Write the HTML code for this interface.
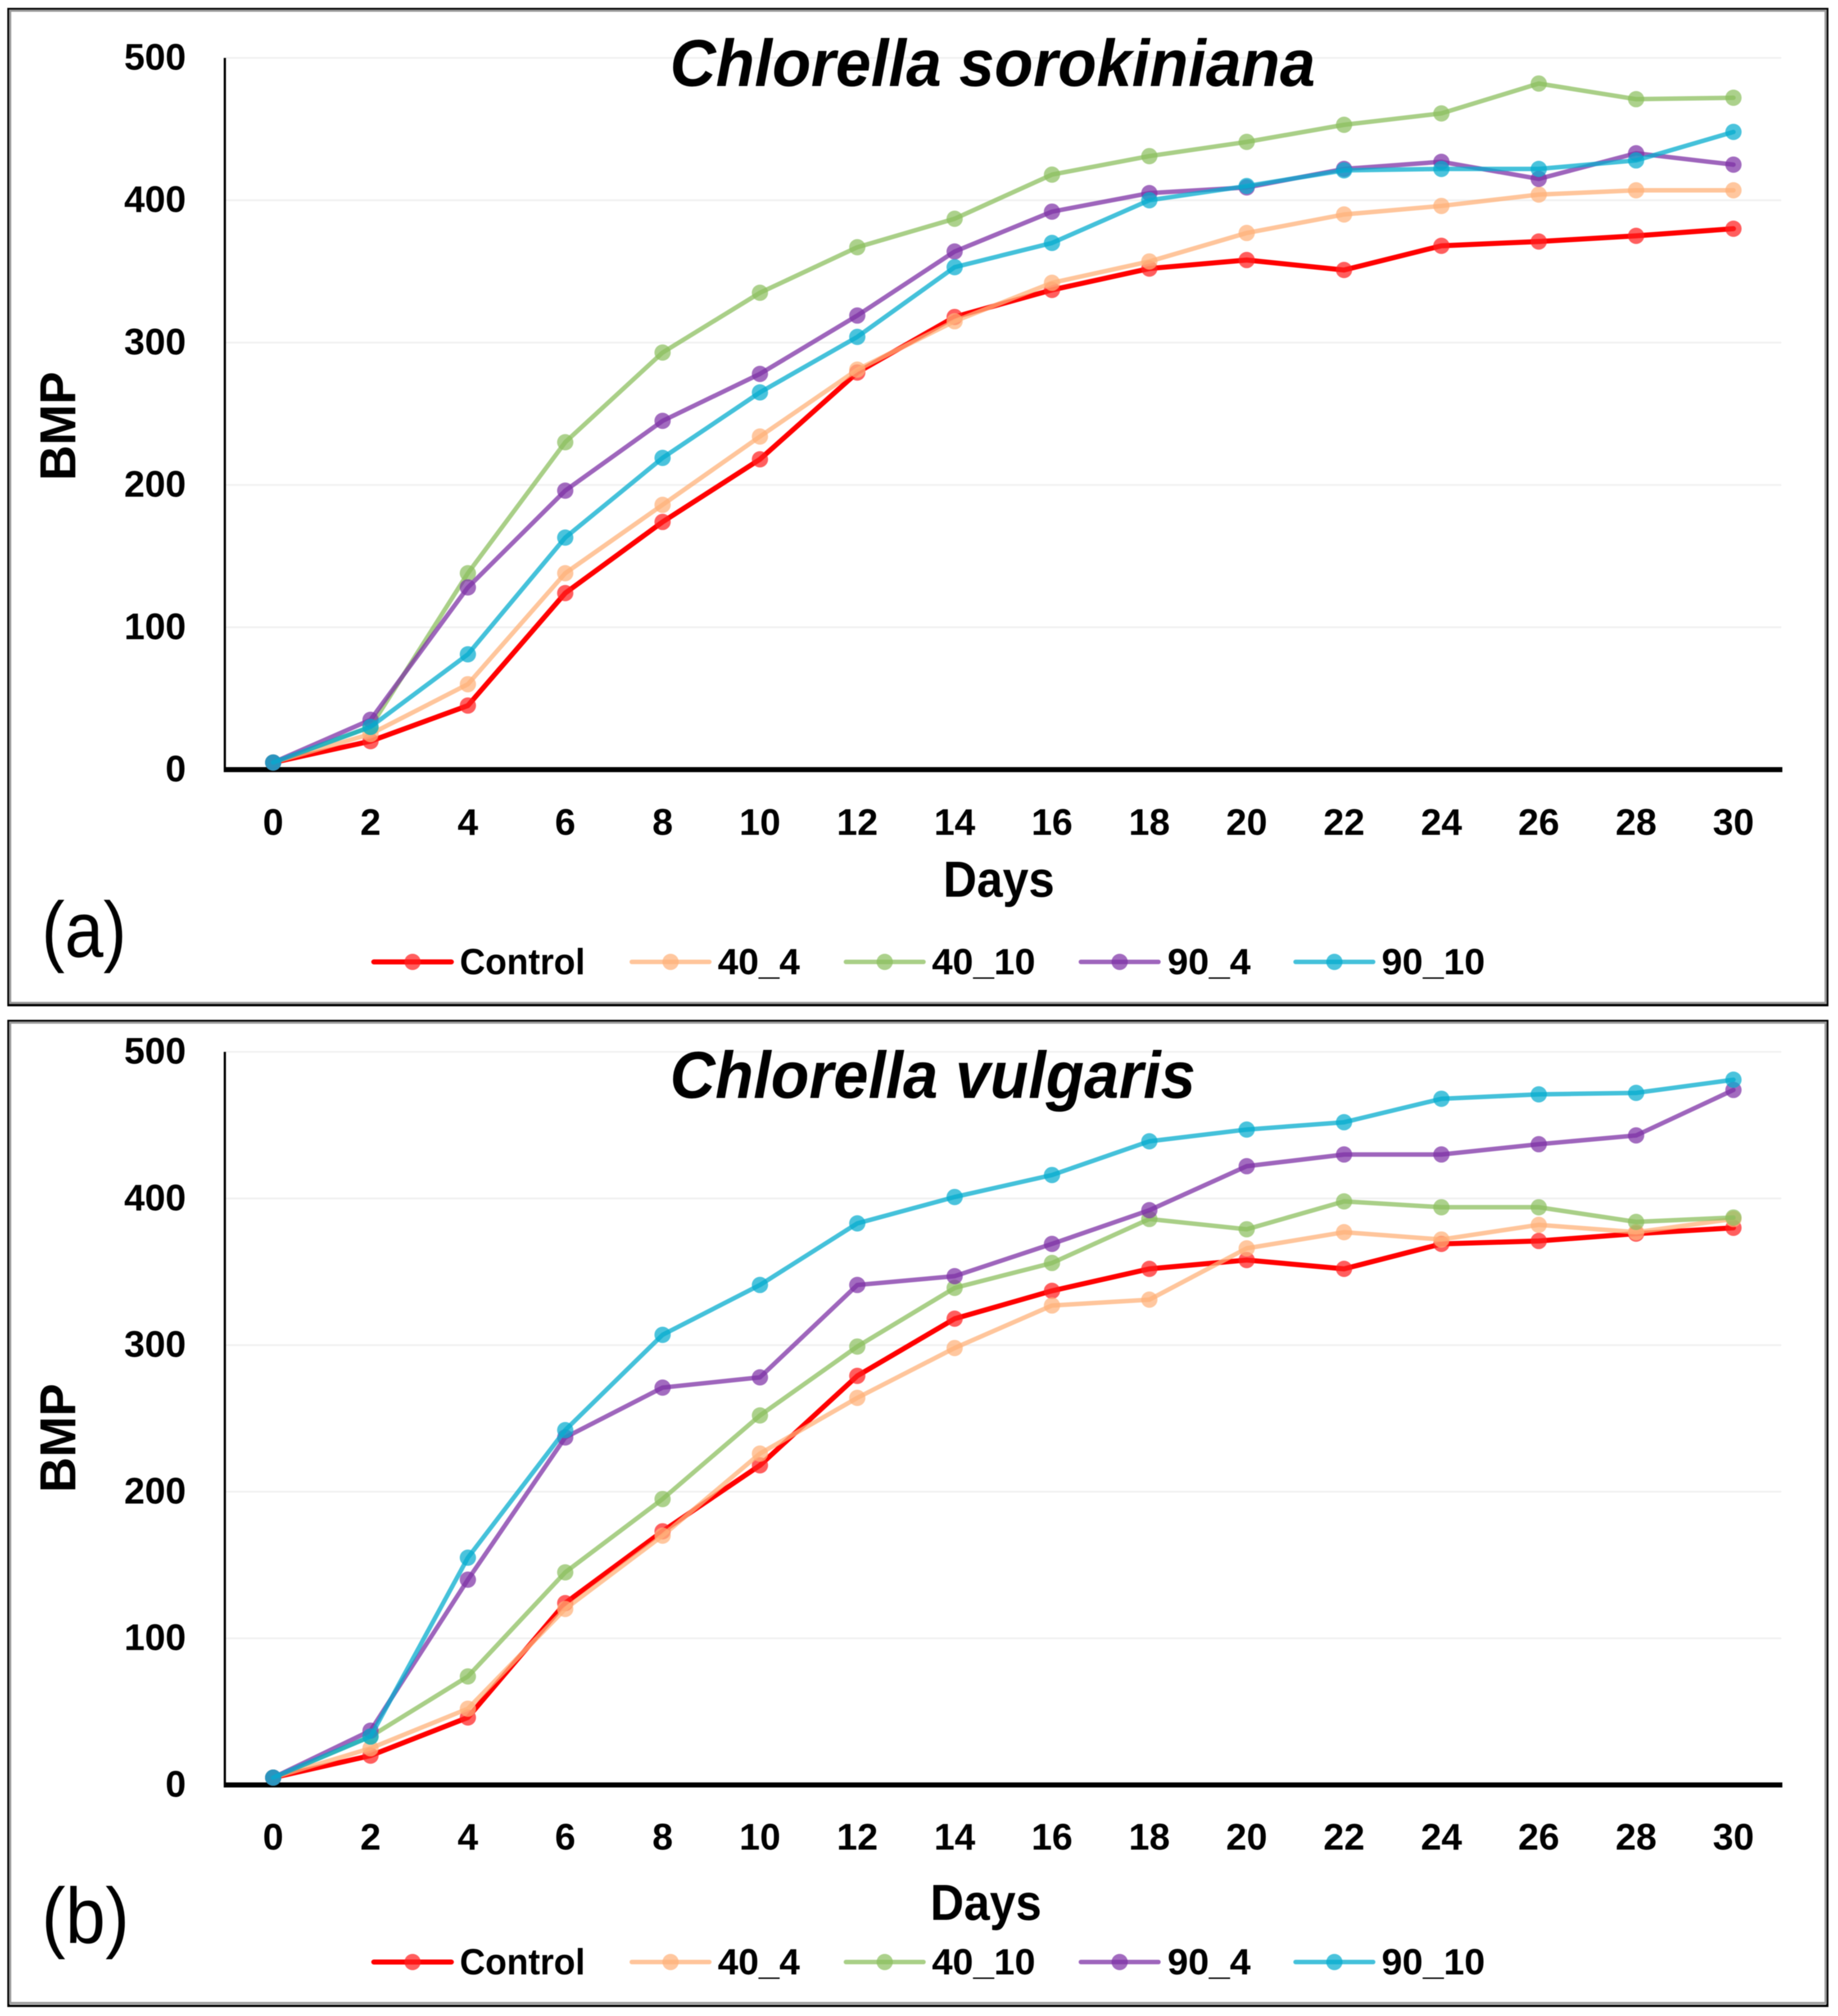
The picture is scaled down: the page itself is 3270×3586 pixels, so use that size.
<!DOCTYPE html>
<html lang="en">
<head>
<meta charset="utf-8">
<title>BMP of Chlorella sorokiniana and Chlorella vulgaris</title>
<style>
html,body{margin:0;padding:0;background:#fff;}
svg{display:block;filter:blur(0.7px);}
text{font-family:"Liberation Sans",sans-serif;fill:#000;}
.tick{font-size:66px;font-weight:700;}
.axis-title{font-weight:700;font-size:90px;}
.chart-title{font-weight:700;font-style:italic;font-size:118px;}
.panel-label{font-size:140px;font-weight:400;}
.legend-text{font-size:65px;font-weight:700;}
.grid{stroke:#f0f0f0;stroke-width:3;}
.frame-outer{fill:none;stroke:#000;stroke-width:4;}
.frame-inner{fill:none;stroke:#9a9a9a;stroke-width:4;}
.series-line{fill:none;stroke-width:8;stroke-linejoin:round;stroke-linecap:round;stroke-opacity:.75;}
.series-dot{fill-opacity:.72;stroke:none;}
.s0 .series-line{stroke:#ff0000;stroke-opacity:1;stroke-width:9;}
.s0 .series-dot{fill:#ff2020;}
.s1 .series-line{stroke:#ffb27a;}
.s1 .series-dot{fill:#ffb27a;}
.s2 .series-line{stroke:#8cbf5f;}
.s2 .series-dot{fill:#8cbf5f;}
.s3 .series-line{stroke:#7e32a6;}
.s3 .series-dot{fill:#7e32a6;}
.s4 .series-line{stroke:#06acce;}
.s4 .series-dot{fill:#06acce;}
</style>
</head>
<body>
<svg id="figure" xmlns="http://www.w3.org/2000/svg" width="3270" height="3586" viewBox="0 0 3270 3586">
  <rect x="0" y="0" width="3270" height="3586" fill="#fff"/>

  <g>
    <rect class="frame-outer" x="15" y="16" width="3236" height="1772"/>
    <rect class="frame-inner" x="18" y="19" width="3230" height="1765"/>
  </g>
  <g>
    <rect class="frame-outer" x="15" y="1816" width="3236" height="1752" stroke-width="5"/>
    <rect class="frame-inner" x="18" y="1819" width="3230" height="1744"/>
  </g>

  <g id="panel-a"></g>
  <g id="panel-b"></g>

  <text class="chart-title" x="1192" y="153" textLength="1148" lengthAdjust="spacingAndGlyphs">Chlorella sorokiniana</text>
  <text class="chart-title" x="1192" y="1953" textLength="935" lengthAdjust="spacingAndGlyphs">Chlorella vulgaris</text>

  <text class="axis-title" transform="translate(134,855) rotate(-90)" textLength="194" lengthAdjust="spacingAndGlyphs">BMP</text>
  <text class="axis-title" transform="translate(134,2655) rotate(-90)" textLength="194" lengthAdjust="spacingAndGlyphs">BMP</text>

  <text class="axis-title" x="1678" y="1595" textLength="198" lengthAdjust="spacingAndGlyphs">Days</text>
  <text class="axis-title" x="1655" y="3415" textLength="198" lengthAdjust="spacingAndGlyphs">Days</text>

  <text class="panel-label" x="74" y="1702" textLength="151" lengthAdjust="spacingAndGlyphs">(a)</text>
  <text class="panel-label" x="74" y="3456" textLength="156" lengthAdjust="spacingAndGlyphs">(b)</text>

  <g id="legend-a"></g>
  <g id="legend-b"></g>
</svg>

<script>
const days = [0,2,4,6,8,10,12,14,16,18,20,22,24,26,28,30];
const yTicks = [0,100,200,300,400,500];
const seriesNames = ["Control","40_4","40_10","90_4","90_10"];

const aControl = [5,20,45,124,174,218,279,318,337,352,358,351,368,371,375,380];
const a40_4    = [5,25,60,138,186,234,281,315,342,357,377,390,396,404,407,407];
const a40_10   = [5,30,138,230,293,335,367,387,418,431,441,453,461,482,471,472];
const a90_4    = [5,35,128,196,245,278,319,364,392,405,409,422,427,415,433,425];
const a90_10   = [5,30,81,163,219,265,304,353,370,400,410,421,422,422,428,448];

const bControl = [5,20,46,124,173,218,279,318,337,352,358,352,369,371,376,380];
const b40_4    = [5,25,52,120,170,226,264,298,327,331,366,377,372,382,377,386];
const b40_10   = [5,33,74,145,195,252,299,339,356,386,379,398,394,394,384,387];
const b90_4    = [5,37,140,237,271,278,341,347,369,392,422,430,430,437,443,474];
const b90_10   = [5,33,155,242,307,341,383,401,416,439,447,452,468,471,472,481];

const NS = "http://www.w3.org/2000/svg";

function make(tag, parent, cls) {
  const el = document.createElementNS(NS, tag);
  if (cls) el.setAttribute("class", cls);
  parent.appendChild(el);
  return el;
}

function xScale(day) {
  const d0 = days[0], d1 = days[days.length - 1];
  return 486 + (day - d0) / (d1 - d0) * (3084 - 486);
}

function drawPanel(root, prefix, zeroY, topY, xLabelY, seriesList) {
  const yMax = yTicks[yTicks.length - 1];
  const yScale = function (v) { return zeroY + (topY - zeroY) * v / yMax; };

  yTicks.forEach(function (t) {
    if (t === 0) return;
    const g = make("line", root, "grid");
    
    
    g.setAttribute("x1", 402);
    g.setAttribute("x2", 3169);
    g.setAttribute("y1", yScale(t));
    g.setAttribute("y2", yScale(t));
  });

  yTicks.forEach(function (t) {
    const lab = make("text", root, "tick");
    
    
    lab.setAttribute("x", 331);
    lab.setAttribute("y", yScale(t) + 21);
    lab.setAttribute("text-anchor", "end");
    lab.textContent = String(t);
  });

  days.forEach(function (d) {
    const lab = make("text", root, "tick");
    
    
    lab.setAttribute("x", xScale(d));
    lab.setAttribute("y", xLabelY + 23);
    lab.setAttribute("text-anchor", "middle");
    lab.textContent = String(d);
  });

  const yAxis = make("line", root);
  
  
  yAxis.setAttribute("x1", 400);
  yAxis.setAttribute("x2", 400);
  yAxis.setAttribute("y1", topY);
  yAxis.setAttribute("y2", zeroY);
  yAxis.setAttribute("stroke", "#000");
  yAxis.setAttribute("stroke-width", 4);

  const xAxis = make("line", root);
  
  
  xAxis.setAttribute("x1", 398);
  xAxis.setAttribute("x2", 3171);
  xAxis.setAttribute("y1", zeroY);
  xAxis.setAttribute("y2", zeroY);
  xAxis.setAttribute("stroke", "#000");
  xAxis.setAttribute("stroke-width", 9);

  seriesList.forEach(function (values, i) {
    const group = make("g", root, "s" + i);
    
    

    const line = make("polyline", group, "series-line");
    
    
    line.setAttribute("points", values.map(function (v, k) {
      return xScale(days[k]).toFixed(1) + "," + yScale(v).toFixed(1);
    }).join(" "));

    values.forEach(function (v, k) {
      const dot = make("circle", group, "series-dot");
      
      
      dot.setAttribute("cx", xScale(days[k]));
      dot.setAttribute("cy", yScale(v));
      dot.setAttribute("r", 14.5);
    });
  });
}

function legendEntry(root, seriesIndex, x1, textX, textW, centerY) {
  const g = make("g", root, "s" + seriesIndex);
  
  

  const line = make("line", g, "series-line");
  
  
  line.setAttribute("x1", x1 + 4);
  line.setAttribute("x2", x1 + 142);
  line.setAttribute("y1", centerY);
  line.setAttribute("y2", centerY);

  const dot = make("circle", g, "series-dot");
  
  
  dot.setAttribute("cx", x1 + 73);
  dot.setAttribute("cy", centerY);
  dot.setAttribute("r", 14.5);

  const label = make("text", g, "legend-text");
  
  
  label.setAttribute("x", textX);
  label.setAttribute("y", centerY + 22);
  label.setAttribute("textLength", textW);
  label.setAttribute("lengthAdjust", "spacingAndGlyphs");
  label.textContent = seriesNames[seriesIndex];
}

function drawLegend(root, centerY) {
  legendEntry(root, 0, 661, 818, 223, centerY);
  legendEntry(root, 1, 1120, 1277, 146, centerY);
  legendEntry(root, 2, 1501, 1658, 184, centerY);
  legendEntry(root, 3, 1919, 2077, 148, centerY);
  legendEntry(root, 4, 2301, 2458, 184, centerY);
}

drawPanel(document.getElementById("panel-a"), "a", 1369, 103, 1462,
  [aControl, a40_4, a40_10, a90_4, a90_10]);
drawPanel(document.getElementById("panel-b"), "b", 3175, 1871, 3267,
  [bControl, b40_4, b40_10, b90_4, b90_10]);
drawLegend(document.getElementById("legend-a"), 1711);
drawLegend(document.getElementById("legend-b"), 3490);
</script>
</body>
</html>
